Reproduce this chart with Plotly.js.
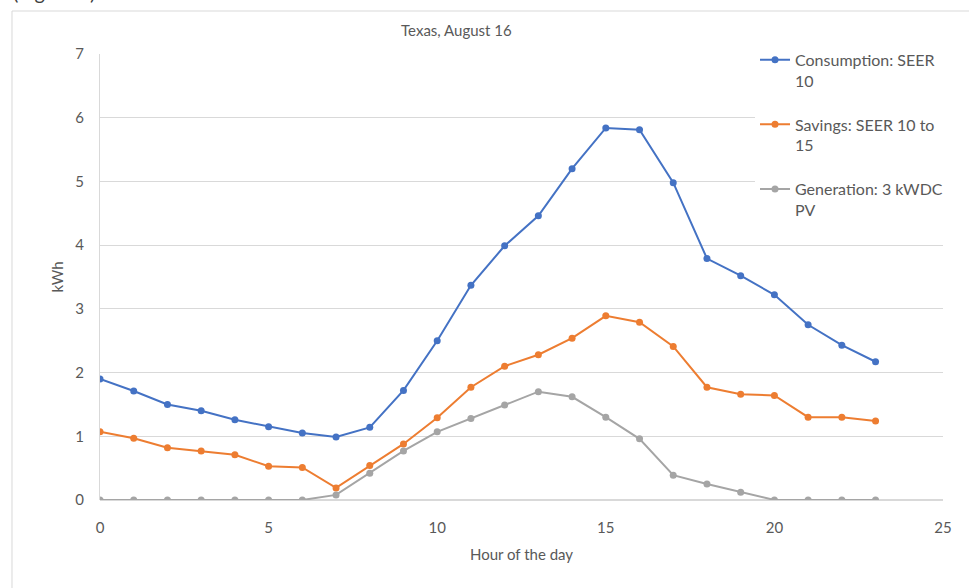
<!DOCTYPE html>
<html>
<head>
<meta charset="utf-8">
<script src="https://cdn.plot.ly/plotly-3.0.1.min.js"></script>
<style>html,body{margin:0;padding:0;background:#fff;}#chart{width:969px;height:588px;}</style>
</head>
<body>
<div id="chart"></div>
<script>
const hours = [0,1,2,3,4,5,6,7,8,9,10,11,12,13,14,15,16,17,18,19,20,21,22,23];
const consumption = [1.90,1.71,1.50,1.40,1.26,1.15,1.05,0.99,1.14,1.72,2.50,3.37,3.99,4.46,5.20,5.84,5.81,4.98,3.79,3.52,3.22,2.75,2.43,2.17];
const savings = [1.07,0.97,0.82,0.77,0.71,0.53,0.51,0.19,0.54,0.88,1.29,1.77,2.10,2.28,2.54,2.89,2.79,2.41,1.77,1.66,1.64,1.30,1.30,1.24];
const generation = [0,0,0,0,0,0,0,0.08,0.42,0.77,1.07,1.28,1.49,1.70,1.62,1.30,0.96,0.39,0.25,0.12,0,0,0,0];
const seriesNames = ["Consumption: SEER<br>10","Savings: SEER 10 to<br>15","Generation: 3 kWDC<br>PV"];
const seriesColors = ["#4472C4","#ED7D31","#A5A5A5"];
const seriesValues = [consumption, savings, generation];

const FONT = "Lato, 'Open Sans', sans-serif";
const traces = seriesValues.map((vals, i) => ({
  x: hours, y: vals, type: "scatter", mode: "lines+markers",
  name: seriesNames[i], legendgroup: "g" + i,
  line: {color: seriesColors[i], width: 2},
  marker: {color: seriesColors[i], size: 7},
  hoverinfo: "x+y"
}));

const layout = {
  width: 969, height: 588,
  margin: {l: 100, r: 26, t: 54, b: 88},
  paper_bgcolor: "#fff", plot_bgcolor: "#fff",
  font: {family: FONT, color: "#595959", size: 15},
  title: {text: "Texas, August 16", font: {family: FONT, size: 15, color: "#595959"}, x: 0.471, xanchor: "center", y: 0.947, yanchor: "middle"},
  xaxis: {
    range: [0, 25], dtick: 5, tick0: 0, showgrid: false, zeroline: false, showline: false,
    ticks: "outside", ticklen: 14, tickcolor: "rgba(0,0,0,0)", tickfont: {size: 15, color: "#595959"},
    title: {text: "Hour of the day", font: {size: 15, color: "#595959"}, standoff: 14}
  },
  yaxis: {
    range: [0, 7], dtick: 1, tick0: 0, showgrid: true, gridcolor: "#D9D9D9", gridwidth: 1,
    zeroline: true, zerolinecolor: "#D9D9D9", zerolinewidth: 1.5,
    showline: true, linecolor: "#D9D9D9", linewidth: 1,
    ticks: "outside", ticklen: 12, tickcolor: "rgba(0,0,0,0)", tickfont: {size: 15, color: "#595959"},
    title: {text: "kWh", font: {size: 15, color: "#595959"}, standoff: 8}
  },
  legend: {
    x: 0.777, y: 1.025, xanchor: "left", yanchor: "top",
    bgcolor: "rgba(255,255,255,1)", font: {family: FONT, size: 16, color: "#595959"},
    valign: "top", tracegroupgap: 20, itemwidth: 30
  },
  showlegend: true,
  shapes: [{
    type: "rect", xref: "paper", yref: "paper",
    x0: -0.1044, x1: 1.3, y0: -0.6, y1: 1.0964,
    line: {color: "#D9D9D9", width: 1}, fillcolor: "rgba(0,0,0,0)", layer: "below"
  }],
  annotations: [{
    text: "(Figure 1)", xref: "paper", yref: "paper", x: -0.105, y: 1.107,
    xanchor: "left", yanchor: "bottom", showarrow: false,
    font: {family: FONT, size: 20, color: "#404040"}
  }]
};

Plotly.newPlot("chart", traces, layout, {displayModeBar: false, staticPlot: true});
</script>
</body>
</html>
